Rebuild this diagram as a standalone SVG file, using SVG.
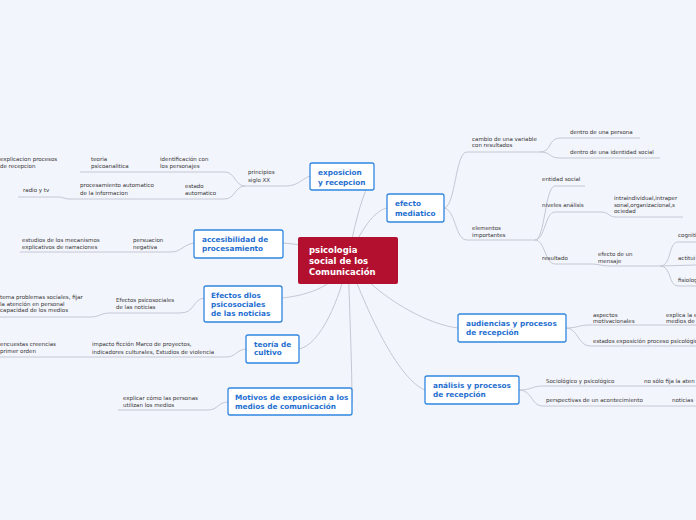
<svg xmlns="http://www.w3.org/2000/svg" width="696" height="520" viewBox="0 0 696 520">
<style>
.n{fill:#fff;stroke:#2f86e0;stroke-width:1.3}
.t{font-family:"DejaVu Sans",sans-serif;font-size:7.3px;font-weight:bold;fill:#1f6fd0}
.s{font-family:"DejaVu Sans",sans-serif;font-size:5.5px;fill:#333}
.c path{fill:none;stroke:#c4c8d4;stroke-width:1}
</style>
<rect width="696" height="520" fill="#f3f5fc"/>
<g class="c">
<path d="M348,260 C355,220 365,185 374,176"/>
<path d="M348,260 C360,230 375,210 387,208"/>
<path d="M348,260 C330,250 300,244 283,243"/>
<path d="M348,260 C335,290 300,296 282,298"/>
<path d="M348,260 C340,300 320,345 299,349"/>
<path d="M348,260 C350,320 352,370 352,402"/>
<path d="M348,260 C380,300 430,325 458,328"/>
<path d="M348,260 C370,320 400,380 425,390"/>
<path d="M310,176 C300,180 298,186 285,186 L245,186 C235,186 235,172 225,172 L80,172 M245,186 C235,186 235,199 225,199 L68,199 L60,197 L18,197"/>
<path d="M194,243 C182,245 182,252 170,252 L20,252"/>
<path d="M204,298 C192,300 195,313 180,313 L110,313 C100,313 100,317 90,317 L0,317"/>
<path d="M246,349 C236,350 236,357 226,357 L0,357"/>
<path d="M228,402 C218,402 218,410 208,410 L118,410"/>
<path d="M444,208 C456,206 455,152 467,152 L540,152 C552,152 548,138 560,138 L640,138 M540,152 C552,152 548,158 560,158 L660,158"/>
<path d="M444,208 C456,210 455,240 467,240 L535,240 C545,240 545,186 555,186 L585,186 M535,240 C545,240 545,212 555,212 L600,212 C610,212 608,217 616,217 L683,217 M535,240 C545,240 545,264 555,264 L590,264 C600,264 600,266 610,266 L660,266 C672,266 668,242 678,242 L696,242 M660,266 L696,265 M660,266 C672,266 668,286 678,286 L696,286"/>
<path d="M566,328 C578,328 578,325 590,325 L696,325 M566,328 C578,328 578,346 590,346 L696,346"/>
<path d="M519,390 C532,390 532,386 542,386 L696,386 M519,390 C532,390 532,406 542,406 L696,406"/>
</g>
<g id="center"><rect x="298" y="237" width="100" height="47" rx="2" fill="#b3102f"/>
<text font-family="DejaVu Sans,sans-serif" font-size="8.5" font-weight="bold" fill="#fff"><tspan x="309" y="253">psicologia</tspan><tspan x="309" y="264">social de los</tspan><tspan x="309" y="275">Comunicación</tspan></text></g>
<g id="exposicion"><rect class="n" x="310" y="163" width="64" height="27" rx="2"/><text class="t"><tspan x="318" y="175">exposicion</tspan><tspan x="318" y="185">y recepcion</tspan></text></g>
<g id="efecto"><rect class="n" x="387" y="194" width="57" height="28" rx="2"/><text class="t"><tspan x="395" y="206">efecto</tspan><tspan x="395" y="216">mediatico</tspan></text></g>
<g id="accesibilidad"><rect class="n" x="194" y="230" width="89" height="28" rx="2"/><text class="t"><tspan x="202" y="242">accesibilidad de</tspan><tspan x="202" y="251">procesamiento</tspan></text></g>
<g id="efectosdlos"><rect class="n" x="204" y="286" width="78" height="36" rx="2"/><text class="t"><tspan x="211" y="298">Efectos dlos</tspan><tspan x="211" y="307">psicosociales</tspan><tspan x="211" y="316">de las noticias</tspan></text></g>
<g id="cultivo"><rect class="n" x="246" y="335" width="53" height="28" rx="2"/><text class="t"><tspan x="254" y="347">teoría de</tspan><tspan x="254" y="355">cultivo</tspan></text></g>
<g id="motivos"><rect class="n" x="228" y="388" width="124" height="27" rx="2"/><text class="t"><tspan x="235" y="400">Motivos de exposición a los</tspan><tspan x="235" y="409">medios de comunicación</tspan></text></g>
<g id="audiencias"><rect class="n" x="458" y="314" width="108" height="28" rx="2"/><text class="t"><tspan x="466" y="326">audiencias y procesos</tspan><tspan x="466" y="335">de recepción</tspan></text></g>
<g id="analisis"><rect class="n" x="425" y="376" width="94" height="28" rx="2"/><text class="t"><tspan x="433" y="388">análisis y procesos</tspan><tspan x="433" y="397">de recepción</tspan></text></g>
<g class="s">
<text x="248" y="174">principios</text><text x="248" y="182">siglo XX</text>
<text x="160" y="161">identificación con</text><text x="160" y="168">los personajes</text>
<text x="91" y="161">teoria</text><text x="91" y="168">psicoanalitica</text>
<text x="0" y="161">explicacion procesos</text><text x="0" y="168">de recepcion</text>
<text x="185" y="188">estado</text><text x="185" y="195">automatico</text>
<text x="80" y="187">procesamiento automatico</text><text x="80" y="195">de la informacion</text>
<text x="23" y="192">radio y tv</text>
<text x="133" y="242">persuacion</text><text x="133" y="249">negativa</text>
<text x="22" y="242">estudios de los mecanismos</text><text x="22" y="249">explicativos de narraciones</text>
<text x="116" y="302">Efectos psicosociales</text><text x="116" y="309">de las noticias</text>
<text x="0" y="299">tema problemas sociales, fijar</text><text x="0" y="306">la atención en personal</text><text x="0" y="312">capacidad de los medios</text>
<text x="92" y="346">impacto ficción Marco de proyectos,</text><text x="92" y="354">indicadores  culturales, Estudios de violencia</text>
<text x="0" y="346">encuestas creencias</text><text x="0" y="353">primer orden</text>
<text x="123" y="400">explicar cómo las personas</text><text x="123" y="407">utilizan los medios</text>
<text x="472" y="141">cambio de una variable</text><text x="472" y="147">con resultados</text>
<text x="570" y="134">dentro de una persona</text>
<text x="570" y="154">dentro de una identidad social</text>
<text x="472" y="230">elementos</text><text x="472" y="237">importantes</text>
<text x="542" y="181">entidad social</text>
<text x="542" y="207">niveles análisis</text>
<text x="614" y="200">intraindividual,intraper</text><text x="614" y="207">sonal,organizacional,s</text><text x="614" y="213">ociedad</text>
<text x="542" y="260">resultado</text>
<text x="598" y="256">efecto de un</text><text x="598" y="263">mensaje</text>
<text x="678" y="237">cogniti</text><text x="678" y="260">actitui</text><text x="678" y="282">fisiolog</text>
<text x="593" y="317">aspectos</text><text x="593" y="323">motivacionales</text>
<text x="666" y="317">explica la e</text><text x="666" y="323">medios de</text>
<text x="593" y="343">estados exposición proceso psicológic</text>
<text x="546" y="383">Sociológico y psicológico</text>
<text x="644" y="383">no sólo  fija la aten</text>
<text x="546" y="402">perspectivas de un acontecimiento</text>
<text x="672" y="402">noticias</text>
</g>
</svg>
